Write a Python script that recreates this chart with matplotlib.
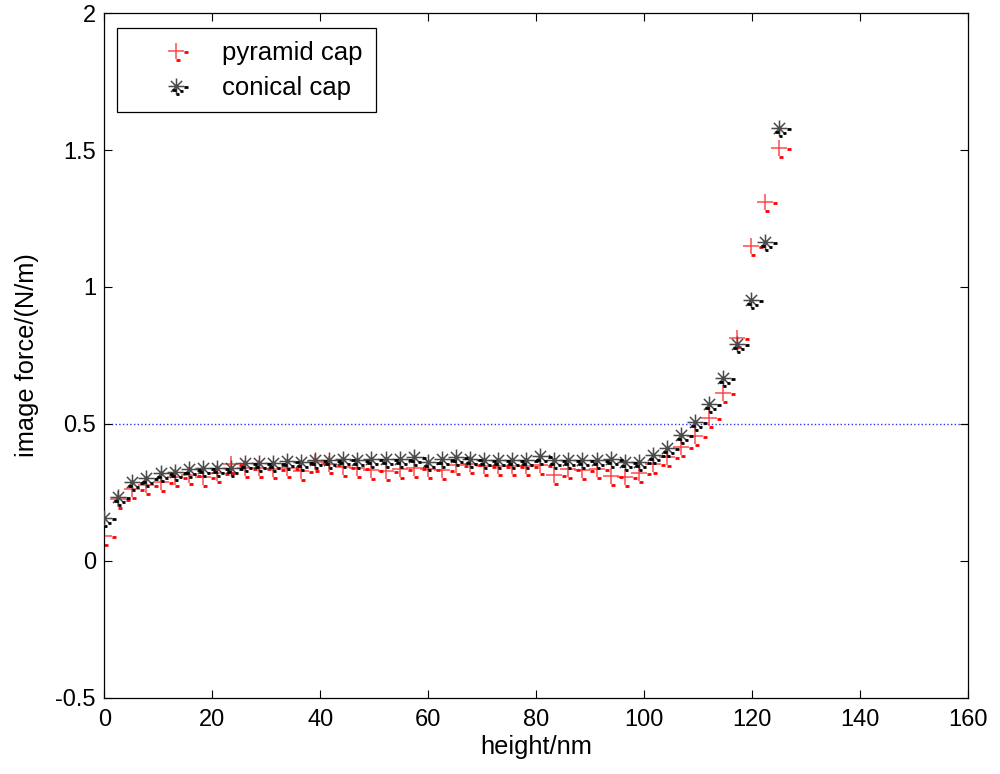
import matplotlib as mpl
mpl.use('Agg')
import matplotlib.pyplot as plt
import matplotlib.ticker as tick
from matplotlib.path import Path

plt.rcParams['font.family'] = ['Liberation Sans', 'DejaVu Sans']

# data
height = [0.0, 2.6, 5.21, 7.81, 10.42, 13.02, 15.63, 18.23, 20.83, 23.44,
          26.04, 28.65, 31.25, 33.85, 36.46, 39.06, 41.67, 44.27, 46.88, 49.48,
          52.08, 54.69, 57.29, 59.9, 62.5, 65.1, 67.71, 70.31, 72.92, 75.52,
          78.13, 80.73, 83.33, 85.94, 88.54, 91.15, 93.75, 96.35, 98.96, 101.56,
          104.17, 106.77, 109.38, 111.98, 114.58, 117.19, 119.79, 122.4, 125.0]
pyramid = [0.09, 0.225, 0.262, 0.277, 0.29, 0.305, 0.315, 0.308, 0.32, 0.355,
           0.34, 0.34, 0.335, 0.34, 0.33, 0.36, 0.355, 0.342, 0.34, 0.331,
           0.33, 0.337, 0.34, 0.337, 0.331, 0.35, 0.355, 0.345, 0.345, 0.345,
           0.345, 0.35, 0.315, 0.337, 0.331, 0.337, 0.31, 0.305, 0.32, 0.354,
           0.378, 0.417, 0.456, 0.521, 0.612, 0.813, 1.151, 1.309, 1.506]
conical = [0.158, 0.232, 0.289, 0.302, 0.322, 0.324, 0.335, 0.338, 0.338, 0.34,
           0.357, 0.357, 0.357, 0.365, 0.362, 0.37, 0.369, 0.371, 0.369, 0.371,
           0.371, 0.371, 0.381, 0.362, 0.371, 0.378, 0.371, 0.369, 0.369, 0.369,
           0.369, 0.383, 0.369, 0.369, 0.369, 0.369, 0.371, 0.362, 0.362, 0.387,
           0.411, 0.46, 0.508, 0.573, 0.669, 0.792, 0.953, 1.165, 1.579]
ref_level = 0.5
labels = ['pyramid cap', 'conical cap']


def seg_marker(segs):
    # first MOVETO only fixes the scale so all markers share one size
    verts = [(1.6, 0)]
    codes = [Path.MOVETO]
    for a, b in segs:
        verts += [a, b]
        codes += [Path.MOVETO, Path.LINETO]
    return Path(verts, codes)

plus_main = seg_marker([((-1, 0), (1, 0)), ((0, -1), (0, 1))])
plus_stub = seg_marker([((1.0, -0.08), (1.5, -0.08)), ((0.0, -1.12), (0.5, -1.12))])
d = 0.7
star_main = seg_marker([((-1, 0), (1, 0)), ((0, -1), (0, 1)),
                        ((-d, -d), (d, d)), ((-d, d), (d, -d))])
star_stub = seg_marker([((1.0, -0.08), (1.5, -0.08)), ((-0.5, -0.5), (-0.05, -0.5)),
                        ((0.5, -0.58), (0.9, -0.58)), ((0.0, -1.05), (0.42, -1.05))])

fig = plt.figure(figsize=(10, 7.74), dpi=100)
ax = fig.add_axes([0.1043, 0.0982, 0.864, 0.885])

ax.axhline(ref_level, color='#2f2fff', linestyle=':', linewidth=1.0, zorder=1)

ms = 18.4
p1, = ax.plot(height, pyramid, linestyle='none', marker=plus_main, markersize=ms,
              mec='#ff4a4a', mfc='none', mew=1.1, zorder=2)
p1s, = ax.plot(height, pyramid, linestyle='none', marker=plus_stub, markersize=ms,
               mec='#ff0000', mfc='none', mew=2.0, zorder=2)
c1, = ax.plot(height, conical, linestyle='none', marker=star_main, markersize=ms,
              mec='#4a4a4a', mfc='none', mew=1.1, zorder=3)
c1s, = ax.plot(height, conical, linestyle='none', marker=star_stub, markersize=ms,
               mec='#000000', mfc='none', mew=2.0, zorder=3)

ax.set_xlim(0, 160)
ax.set_ylim(-0.5, 2)
ax.xaxis.set_major_locator(tick.MultipleLocator(20))
ax.yaxis.set_major_locator(tick.MultipleLocator(0.5))
ax.yaxis.set_major_formatter(tick.FuncFormatter(lambda v, p: '%g' % v))
ax.tick_params(which='major', direction='in', bottom=True, top=True, left=True, right=True,
               length=6, width=0.8, labelsize=17)
ax.tick_params(axis='x', pad=8)
ax.tick_params(axis='y', pad=6)
for s in ax.spines.values():
    s.set_linewidth(0.9)

ax.set_xlabel('height/nm', fontsize=18.3, labelpad=3)
ax.set_ylabel('image force/(N/m)', fontsize=18.3, labelpad=12)

leg = ax.legend([(p1, p1s), (c1, c1s)], labels, loc='upper left',
                bbox_to_anchor=(12.7 / 864, 1 - 15 / 685), borderaxespad=0,
                fontsize=18.5, handlelength=3.6, handletextpad=0.0, borderpad=0.5,
                labelspacing=0.42, fancybox=False, edgecolor='black', framealpha=1)
leg.get_frame().set_linewidth(0.9)

plt.savefig('out.png', dpi=100)
